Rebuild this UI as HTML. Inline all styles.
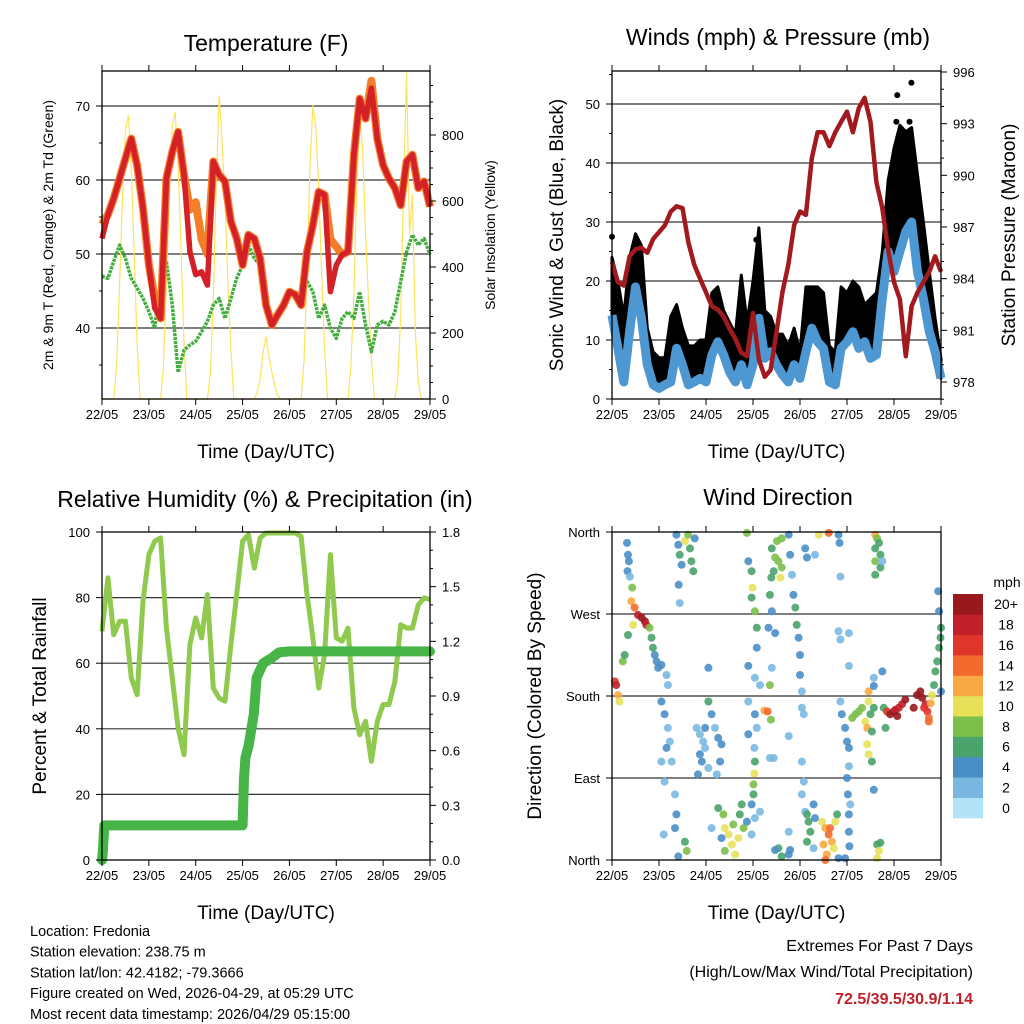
<!DOCTYPE html>
<html><head><meta charset="utf-8"><style>
html,body{margin:0;padding:0;background:#fff;}
svg{display:block;font-family:"Liberation Sans",Arial,sans-serif;}
</style></head><body>
<svg id="chart" width="1024" height="1024" viewBox="0 0 1024 1024" xmlns="http://www.w3.org/2000/svg"></svg>
<script>
// ---------- DATA ----------
const dayLabels = ["22/05","23/05","24/05","25/05","26/05","27/05","28/05","29/05"];
// 3-hourly series (t = 0..7 days, step 0.125)
const tempRed = [52.1,55.3,57.5,60.2,62.9,65.6,62,56.2,48.5,42.7,41.3,60.2,63.8,66.5,60.7,50.3,47.2,47.6,45.8,62.5,60.7,59.8,54.4,52.1,48.5,52.6,52.1,49.4,43.1,40.4,41.8,43.1,44.9,44.5,43.1,50.3,53.9,58.4,58,44.9,48.5,49.9,50.3,63.4,71,68.3,72.4,65.6,62,60.2,58.9,56.6,62.5,63.4,58.9,59.8,56.4];
const tempOrange = [54,55.3,57.5,60.2,62.9,65.6,62,56.2,48.5,44,41.3,60.2,63.8,66.5,60.7,56,57,52,50,62.5,60.7,59.8,54.4,52.1,48.5,52.6,52.1,49.4,43.1,40.4,41.8,43.1,44.9,44.5,43.1,50.3,53.9,58.4,58,52,51,49.9,50.3,63.4,71,68.3,73.4,65.6,62,60.2,58.9,56.6,62.5,63.4,58.9,59.8,56.4];
const dewPoint = [47,46.7,49,51.2,49.4,46.7,45.4,44,42.2,40,46.3,49,43.1,34,37,37.7,38.2,39.5,40.9,43.1,44,41.3,44,46.7,48.5,51.2,49.4,48.5,43.1,40.4,41.8,43.6,44.9,44,44.9,46.3,44.9,41.3,43.1,40,38.6,41.3,42.2,41.3,44.9,40.4,36.8,40.4,40.9,40.4,42.2,46.3,50.3,52.6,51.2,52.1,49.9];
// solar insolation, step 1/16 day
const solar = [
0,0,0,0,0,100,350,610,810,860,700,440,170,0,0,0,
0,0,0,0,0,100,360,620,830,870,710,450,170,0,0,0,
0,0,0,0,0,80,300,650,920,780,600,350,150,0,0,0,
0,0,0,0,0,20,60,140,190,130,80,40,10,0,0,0,
0,0,0,0,0,120,380,700,890,820,640,380,150,0,0,0,
0,0,0,0,0,100,320,640,860,760,500,300,120,0,0,0,
0,0,0,0,0,60,250,650,990,500,620,200,50,0,0,0,
0];
const windSpd = [14.2,8.6,2.9,11.4,19,13.7,5.8,2.4,1.8,2.4,2.9,8.6,5.8,2.4,2.9,3.5,2.9,7.5,9.7,7.5,4.6,2.9,5.8,2.4,5.8,13.7,6.9,8,5.8,4.1,2.9,5.8,3.5,8,12,9.7,8.6,2.9,2.4,8.6,9.7,11.4,8.6,9.7,6.9,7.5,17,25,21.6,25,28.4,30,21.6,17,11.4,8,3.5];
const windGust = [24,20,14,24,28,26,12,8,7,7,14,16,12,9,9,10,10,18,19,15,13,11,21,13,20,29,15,14,11,11,9,12,8,19,19,19,18,9,8,19,18,20,19,16,17,18,25,37,42.5,46.4,45.3,46,38,30,21.6,13.7,6.9];
const gustPeakT = [6.07,6.37,6.05,6.33,3.07,0.0];
const gustPeakV = [51.5,53.6,47,47,27,27.5];
const pressure = [984.95,983.8,983.6,985.3,985.7,985.8,985.5,986.3,986.7,987.1,987.9,988.2,988.1,986.1,984.8,984,983.2,982.4,982.2,981.8,981.1,980.5,979.7,979.5,982,979.3,978.3,978.7,980.9,983.2,984.8,987.1,987.9,987.7,991,992.5,992.5,991.7,992.5,993.1,993.7,992.5,993.9,994.5,993.1,989.6,988.1,985.7,983.8,982.8,979.5,982.4,983.2,983.8,984.4,985.3,984.4];
const relHum = [69.7,86,68.7,72.8,72.8,55.5,50.4,78.9,93.1,97.2,98.2,70.7,55.5,40.2,32.1,65.7,73.8,67.7,80.9,52.4,49.4,48.4,65.7,80.9,97.2,99.2,89,98.2,99.7,99.7,99.7,99.7,99.7,99.7,98.7,80.9,67.7,52.4,62.6,93.1,67.7,66.7,70.7,46.3,38.2,42.3,30.1,42.3,47.4,47.4,54.5,71.7,70.7,70.7,77.8,79.9,79.4];
const precipT = [0,0.02,0.05,0.1,3.0,3.03,3.06,3.13,3.24,3.3,3.44,3.63,3.78,4.0,7.0];
const precipV = [0,0.05,0.19,0.19,0.19,0.45,0.56,0.63,0.8,1.0,1.08,1.11,1.14,1.145,1.145];
// wind direction observations: [day, degrees, mph]
const windObs = [
[0.06,196,16],[0.09,192,18],[0.13,181,12],[0.16,174,10],[0.23,218,8],[0.27,225,6],
[0.32,348,4],[0.34,335,4],[0.36,328,4],[0.33,317,4],[0.38,311,2],[0.43,299,8],
[0.41,284,12],[0.48,277,14],[0.55,269,18],[0.63,266,20],[0.70,262,20],[0.73,258,18],[0.45,258,10],[0.34,247,6],[0.80,255,8],[0.84,244,6],[0.87,233,6],
[0.91,225,4],[0.95,218,4],[0.98,211,4],[1.05,214,4],[1.16,203,2],[1.19,192,2],[1.05,174,4],[1.12,160,4],[1.19,145,2],[1.23,130,2],[1.16,123,4],[1.27,108,2],[1.05,108,2],[1.12,86,2],[1.34,72,2],[1.37,50,4],[1.34,35,4],[1.10,28,2],
[1.37,357,4],[1.41,346,4],[1.44,335,6],[1.48,324,4],[1.55,350,10],[1.62,357,8],[1.66,342,6],[1.69,328,6],[1.73,317,6],[1.76,353,4],[1.42,302,4],[1.44,282,2],
[1.55,20,6],[1.59,10,8],[1.41,4,4],
[1.80,145,2],[1.87,138,2],[1.94,130,2],[1.98,123,2],[1.87,116,4],[1.91,108,4],[2.05,101,2],[1.83,94,4],[1.98,145,4],[2.12,160,4],[2.05,174,6],[2.05,211,4],[2.19,145,2],[2.26,134,4],[2.30,108,4],[2.23,94,2],[2.33,127,4],
[2.26,57,6],[2.37,50,8],[2.40,35,10],[2.48,28,10],[2.55,17,10],[2.62,6,10],[2.58,39,8],[2.69,24,10],[2.72,50,6],[2.76,61,6],[2.80,35,8],[2.33,24,4],[2.40,10,8],[2.12,35,2],
[2.87,359,8],[2.90,328,4],[2.97,317,6],[2.99,299,10],[2.97,288,6],[3.04,273,8],[3.08,255,6],[3.08,233,4],[2.90,213,4],[3.04,200,2],[3.15,192,2],[2.90,174,2],[3.04,160,4],[3.08,145,2],[2.90,138,4],[3.03,123,2],[3.04,108,6],[3.03,95,10],[3.01,83,8],[3.01,72,6],[2.97,61,4],[3.04,46,2],[3.15,53,2],[2.87,42,4],[2.97,28,2],
[3.24,164,12],[3.31,163,14],[3.38,154,8],
[3.40,342,6],[3.47,332,8],[3.54,328,8],[3.61,321,8],[3.44,317,6],[3.51,350,8],[3.61,353,8],[3.58,310,10],[3.39,310,6],[3.36,291,6],[3.40,273,4],[3.33,255,4],[3.47,249,4],[3.40,211,2],[3.36,192,8],[3.44,112,2],[3.36,112,2],
[3.76,357,4],[3.79,335,4],[3.83,313,2],[3.86,291,4],[3.90,277,6],[3.93,258,6],[3.97,244,4],[4.00,225,4],[4.00,203,4],[4.04,185,2],[4.04,167,2],[4.08,160,2],[4.04,108,2],[4.08,86,2],[4.04,72,2],[4.11,53,2],[3.76,136,2],
[3.54,13,6],[3.61,4,6],[3.76,6,4],[3.79,11,4],[3.47,11,4],[3.76,31,2],
[4.15,50,6],[4.18,42,6],[4.22,31,6],[4.29,61,4],[4.32,46,4],[4.15,20,6],[4.29,13,2],
[4.47,42,10],[4.54,35,12],[4.61,28,14],[4.68,20,12],[4.75,42,10],[4.50,17,12],[4.57,6,12],[4.64,35,14],[4.72,13,10],[4.54,0,14],[4.82,2,4],[4.79,50,6],
[4.11,342,4],[4.15,332,4],[4.32,335,2],[4.40,357,10],[4.61,359,14],[4.82,357,4],[4.84,348,4],[4.86,311,2],[4.82,251,2],[4.86,242,2],[5.04,249,2],[5.04,213,2],
[4.86,174,2],[4.89,160,4],[4.96,145,4],[5.00,130,4],[5.04,123,4],[5.04,103,2],[5.00,90,4],[5.02,72,4],[5.04,50,4],[5.04,31,4],[5.05,15,4],[5.07,61,2],[4.96,2,4],
[5.11,156,8],[5.18,160,8],[5.25,163,8],[5.32,167,8],[5.39,152,10],[5.43,145,12],[5.46,185,12],[5.46,174,10],[5.50,160,6],[5.53,141,6],[5.43,127,10],[5.46,116,10],[5.53,108,6],[5.57,167,6],[5.57,191,4],[5.75,207,4],[5.57,200,2],[5.57,77,4],
[5.60,357,12],[5.64,353,8],[5.68,348,6],[5.60,342,6],[5.71,335,6],[5.60,328,8],[5.71,321,6],[5.60,313,6],[5.75,328,2],
[5.64,17,6],[5.68,10,10],[5.64,2,10],[5.71,19,6],
[5.78,167,6],[5.85,163,16],[5.92,160,20],[6.00,163,20],[6.03,165,18],[6.07,158,20],[6.10,167,18],[6.17,171,18],[6.24,176,20],[5.82,145,6],
[6.42,167,20],[6.49,181,20],[6.56,185,20],[6.60,178,20],[6.67,171,18],[6.71,163,16],[6.74,156,14],[6.78,172,12],[6.81,181,10],[6.85,192,6],[6.88,207,6],[6.92,218,6],[6.96,233,6],[6.99,244,6],[6.96,273,4],[6.94,295,4],[7.0,255,6],[7.0,185,4],[6.74,152,14],[6.64,167,16]
];
// ---------- HELPERS ----------
const svg = document.getElementById('chart');
const NS = "http://www.w3.org/2000/svg";
function mk(tag, attrs, parent, text){
  const e = document.createElementNS(NS, tag);
  for (const k in attrs) e.setAttribute(k, attrs[k]);
  if (text !== undefined) e.textContent = text;
  (parent || svg).appendChild(e);
  return e;
}
function lin(d0,d1,r0,r1){ return v => r0 + (v-d0)*(r1-r0)/(d1-d0); }
function pathFrom(xs, ys){ return xs.map((x,i)=> (i?'L':'M')+x.toFixed(1)+' '+ys[i].toFixed(1)).join(' '); }
const step8 = tempRed.map((_,i)=>i*0.125);
const step16 = solar.map((_,i)=>i/16);
const speedColors = ["#b3e3f7","#7ab8e2","#4a8ec6","#4aa36b","#7cbf4a","#e7e15a","#f9a944","#f26a2d","#e0352b","#c0212b","#98181e"];
const speedLabels = ["0","2","4","6","8","10","12","14","16","18","20+"];

function frame(name){
  const g = mk('g', {});
  
  
  return g;
}
function xAxis(g, x0, x1, y0, y1){
  const sx = lin(0,7,x0,x1);
  dayLabels.forEach((lab,i)=>{
    const x = sx(i);
    mk('line',{x1:x,y1:y1,x2:x,y2:y1+6,stroke:'#000','stroke-width':1},g);
    mk('line',{x1:x,y1:y0,x2:x,y2:y0-6,stroke:'#000','stroke-width':1},g);
    const t = mk('text',{x:x,y:y1+20,'text-anchor':'middle','font-size':13},g,lab);
    
    
  });
  const tt = mk('text',{x:(x0+x1)/2,y:y1+59,'text-anchor':'middle','font-size':19},g,'Time (Day/UTC)');
  
  
  return sx;
}
function border(g,x0,y0,x1,y1){
  mk('rect',{x:x0,y:y0,width:x1-x0,height:y1-y0,fill:'none',stroke:'#000','stroke-width':1.3},g);
}
function hgrid(g,x0,x1,ys){ ys.forEach(y=>mk('line',{x1:x0,y1:y,x2:x1,y2:y,stroke:'#333','stroke-width':1.2},g)); }
function leftTicks(g,x0,vals,sy,labels,minor){
  vals.forEach((v,i)=>{
    const y=sy(v);
    mk('line',{x1:x0,y1:y,x2:x0-6,y2:y,stroke:'#000'},g);
    const t=mk('text',{x:x0-12,y:y+5,'text-anchor':'end','font-size':13},g,labels[i]);
    
    
  });
  (minor||[]).forEach(v=>{const y=sy(v); mk('line',{x1:x0,y1:y,x2:x0-3,y2:y,stroke:'#000'},g);});
}
function rightTicks(g,x1,vals,sy,labels,minor){
  vals.forEach((v,i)=>{
    const y=sy(v);
    mk('line',{x1:x1,y1:y,x2:x1+6,y2:y,stroke:'#000'},g);
    const t=mk('text',{x:x1+12,y:y+5,'text-anchor':'start','font-size':13},g,labels[i]);
    
    
  });
  (minor||[]).forEach(v=>{const y=sy(v); mk('line',{x1:x1,y1:y,x2:x1+3,y2:y,stroke:'#000'},g);});
}
function vtitle(g,x,y,txt,size,name){
  const t=mk('text',{x:x,y:y,'text-anchor':'middle','font-size':size,transform:`rotate(-90 ${x} ${y})`},g,txt);
  
  
}
function title(g,x,y,txt){
  const t=mk('text',{x:x,y:y,'text-anchor':'middle','font-size':23},g,txt);
  
  
}
function range(a,b,s){const r=[];for(let v=a;v<=b+1e-9;v+=s)r.push(+v.toFixed(3));return r;}

// ---------- PANEL 1: TEMPERATURE ----------
(function(){
  const X0=102,X1=430,Y0=71,Y1=399;
  const g=frame('temperature-panel');
  const sx=lin(0,7,X0,X1), sT=lin(40,70,328,106), sS=lin(0,800,399,135);
  hgrid(g,X0,X1,[40,50,60,70].map(sT));
  const sol=mk('path',{d:pathFrom(step16.map(sx),solar.map(sS)),fill:'none',stroke:'#fde35a','stroke-width':1.2},g);
  
  
  const dp=mk('path',{d:pathFrom(step8.map(sx),dewPoint.map(sT)),fill:'none',stroke:'#44ad3f','stroke-width':3.5,'stroke-dasharray':'3 1','stroke-linejoin':'round'},g);
  
  
  const o=mk('path',{d:pathFrom(step8.map(sx),tempOrange.map(sT)),fill:'none',stroke:'#f47d2a','stroke-width':8,'stroke-linejoin':'round'},g);
  
  
  const r=mk('path',{d:pathFrom(step8.map(sx),tempRed.map(sT)),fill:'none',stroke:'#d42027','stroke-width':5.5,'stroke-linejoin':'round'},g);
  
  
  border(g,X0,Y0,X1,Y1);
  leftTicks(g,X0,[40,50,60,70],sT,["40","50","60","70"],[35,45,55,65]);
  rightTicks(g,X1,[0,200,400,600,800],sS,["0","200","400","600","800"],range(50,950,50).filter(v=>v%200));
  xAxis(g,X0,X1,Y0,Y1);
  title(g,266,51,'Temperature (F)');
  vtitle(g,53,235,'2m & 9m T (Red, Orange) & 2m Td (Green)',14,'y-axis-title');
  vtitle(g,495,235,'Solar Insolation (Yellow)',14,'y2-axis-title');
})();

// ---------- PANEL 2: WINDS & PRESSURE ----------
(function(){
  const X0=612,X1=941,Y0=71,Y1=399;
  const g=frame('winds-panel');
  const sx=lin(0,7,X0,X1), sW=lin(0,50,399,104), sP=lin(978,996,382,72);
  hgrid(g,X0,X1,[10,20,30,40,50].map(sW));
  const xs=step8.map(sx);
  const top=windGust.map(sW), bot=windSpd.map(sW);
  const rb=bot.slice().reverse(), rx=xs.slice().reverse();
  const band=pathFrom(xs,top)+' '+rx.map((x,i)=>'L'+x.toFixed(1)+' '+rb[i].toFixed(1)).join(' ')+'Z';
  const gb=mk('path',{d:band,fill:'#000',stroke:'#000','stroke-width':3,'stroke-linejoin':'round'},g);
  
  
  gustPeakT.forEach((t,i)=>{
    const c=mk('circle',{cx:sx(t),cy:sW(gustPeakV[i]),r:3,fill:'#000'},g);
    
    
  });
  const w=mk('path',{d:pathFrom(xs,bot),fill:'none',stroke:'#4d97d2','stroke-width':9,'stroke-linejoin':'round'},g);
  
  
  const p=mk('path',{d:pathFrom(xs,pressure.map(sP)),fill:'none',stroke:'#a31a1e','stroke-width':4.5,'stroke-linejoin':'round'},g);
  
  
  border(g,X0,Y0,X1,Y1);
  leftTicks(g,X0,[0,10,20,30,40,50],sW,["0","10","20","30","40","50"],[5,15,25,35,45,55]);
  rightTicks(g,X1,[978,981,984,987,990,993,996],sP,["978","981","984","987","990","993","996"],range(977,996,1).filter(v=>(v-978)%3));
  xAxis(g,X0,X1,Y0,Y1);
  title(g,778,45,'Winds (mph) & Pressure (mb)');
  vtitle(g,563,235,'Sonic Wind & Gust (Blue, Black)',19,'y-axis-title');
  vtitle(g,1015,235,'Station Pressure (Maroon)',19,'y2-axis-title');
})();

// ---------- PANEL 3: RH & PRECIP ----------
(function(){
  const X0=102,X1=430,Y0=532,Y1=860;
  const g=frame('humidity-panel');
  const sx=lin(0,7,X0,X1), sR=lin(0,100,860,532), sPr=lin(0,1.8,860,532);
  hgrid(g,X0,X1,[20,40,60,80].map(sR));
  const rh=mk('path',{d:pathFrom(step8.map(sx),relHum.map(sR)),fill:'none',stroke:'#8fc94e','stroke-width':5,'stroke-linejoin':'round'},g);
  
  
  const pr=mk('path',{d:pathFrom(precipT.map(sx),precipV.map(sPr)),fill:'none',stroke:'#46b447','stroke-width':10,'stroke-linejoin':'round','stroke-linecap':'round'},g);
  
  
  border(g,X0,Y0,X1,Y1);
  leftTicks(g,X0,[0,20,40,60,80,100],sR,["0","20","40","60","80","100"]);
  rightTicks(g,X1,[0,0.3,0.6,0.9,1.2,1.5,1.8],sPr,["0.0","0.3","0.6","0.9","1.2","1.5","1.8"],range(0.1,1.7,0.1).filter(v=>Math.round(v*10)%3));
  xAxis(g,X0,X1,Y0,Y1);
  title(g,265,507,'Relative Humidity (%) & Precipitation (in)');
  vtitle(g,46,696,'Percent & Total Rainfall',19,'y-axis-title');
})();

// ---------- PANEL 4: WIND DIRECTION ----------
(function(){
  const X0=612,X1=941,Y0=532,Y1=860;
  const g=frame('wind-direction-panel');
  const sx=lin(0,7,X0,X1), sD=lin(0,360,860,532);
  hgrid(g,X0,X1,[90,180,270].map(sD));
  windObs.forEach(o=>{
    const idx=Math.min(10,Math.floor(o[2]/2));
    const c=mk('circle',{cx:sx(o[0]).toFixed(1),cy:sD(o[1]).toFixed(1),r:4,fill:speedColors[idx],'fill-opacity':0.9},g);
    
    
  });
  border(g,X0,Y0,X1,Y1);
  leftTicks(g,X0,[0,90,180,270,360],sD,["North","East","South","West","North"]);
  xAxis(g,X0,X1,Y0,Y1);
  title(g,778,505,'Wind Direction');
  vtitle(g,541,696,'Direction (Colored By Speed)',19,'y-axis-title');
  const cb=mk('g',{},svg);
  
  
  const h=224/11;
  speedColors.forEach((c,i)=>{
    const y=818-(i+1)*h;
    const r=mk('rect',{x:953,y:y.toFixed(1),width:30,height:(h+0.3).toFixed(1),fill:c},cb);
    
    
    const t=mk('text',{x:1006,y:(y+h/2+5).toFixed(1),'text-anchor':'middle','font-size':14},cb,speedLabels[i]);
    
    
  });
  const u=mk('text',{x:1007,y:587,'text-anchor':'middle','font-size':14},cb,'mph');
  
  
})();

// ---------- FOOTER TEXT ----------
(function(){
  const info=["Location: Fredonia","Station elevation: 238.75 m","Station lat/lon: 42.4182; -79.3666","Figure created on Wed, 2026-04-29, at 05:29 UTC","Most recent data timestamp: 2026/04/29 05:15:00"];
  info.forEach((s,i)=>{
    const t=mk('text',{x:30,y:936+i*20.7,'font-size':14.5},svg,s);
    
    
  });
  const a=mk('text',{x:973,y:951,'text-anchor':'end','font-size':16},svg,'Extremes For Past 7 Days');
  
  
  const b=mk('text',{x:973,y:977,'text-anchor':'end','font-size':16},svg,'(High/Low/Max Wind/Total Precipitation)');
  
  
  const c=mk('text',{x:973,y:1004,'text-anchor':'end','font-size':16,'font-weight':'bold',fill:'#c0212b'},svg,'72.5/39.5/30.9/1.14');
  
  
})();
</script>
</body></html>
